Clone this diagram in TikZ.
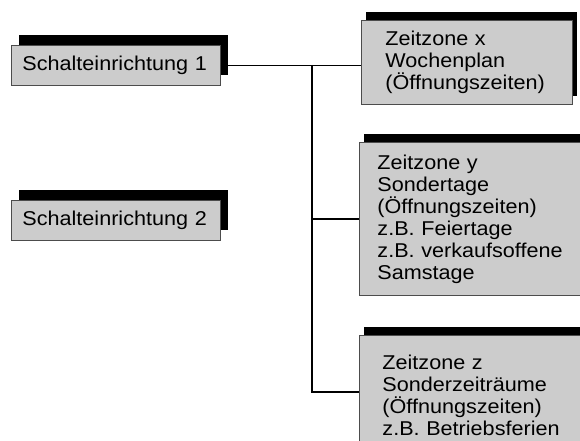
\documentclass[tikz,border=0pt]{standalone}
\usepackage{fontspec}
\setmainfont{Liberation Sans}[FakeStretch=1.08]
\usetikzlibrary{shadows,calc}
\definecolor{boxgray}{gray}{0.8}
\definecolor{edgegray}{gray}{0.3}
\begin{document}
\begin{tikzpicture}[x=1pt,y=-1pt,
  box/.style={draw=edgegray, line width=0.9pt, fill=boxgray, anchor=north west,
    font=\fontsize{20}{22}\selectfont, align=left, inner ysep=0pt},
  lshadow/.style={general shadow={fill=black, shadow xshift=8pt, shadow yshift=10pt}},
  rshadow/.style={general shadow={fill=black, shadow xshift=5pt, shadow yshift=8pt}},
  conn/.style={line width=1.6pt, black}]
\useasboundingbox (0,0) rectangle (580,441);
\clip (0,0) rectangle (580,441);
% left boxes
\node[box, lshadow, inner xsep=11pt, text width=187pt, minimum height=40pt] (b1) at (11,45) {Schalteinrichtung 1};
\node[box, lshadow, inner xsep=11pt, text width=187pt, minimum height=40pt] (b2) at (11,200) {Schalteinrichtung 2};
% right boxes
\node[box, rshadow, inner xsep=24pt, text width=163pt, minimum height=84pt] (bx) at (361,20)
  {Zeitzone x\\Wochenplan\\(Öffnungszeiten)};
\node[box, rshadow, inner xsep=18pt, text width=223pt, minimum height=153pt] (by) at (359,142)
  {Zeitzone y\\Sondertage\\(Öffnungszeiten)\\z.B. Feiertage\\z.B. verkaufsoffene\\Samstage};
\node[box, rshadow, inner xsep=23pt, text width=218pt, minimum height=120pt] (bz) at (359,335)
  {Zeitzone z\\Sonderzeiträume\\(Öffnungszeiten)\\z.B. Betriebsferien};
% connectors
\coordinate (ja) at (312,65);
\coordinate (jz) at (312,392);
\draw[conn] (b1.east) -- (b1.east -| bx.west);
\draw[conn] (ja) -- (jz) -- (jz -| bz.west);
\draw[conn] (ja |- by.west) -- (by.west);
\end{tikzpicture}
\end{document}
